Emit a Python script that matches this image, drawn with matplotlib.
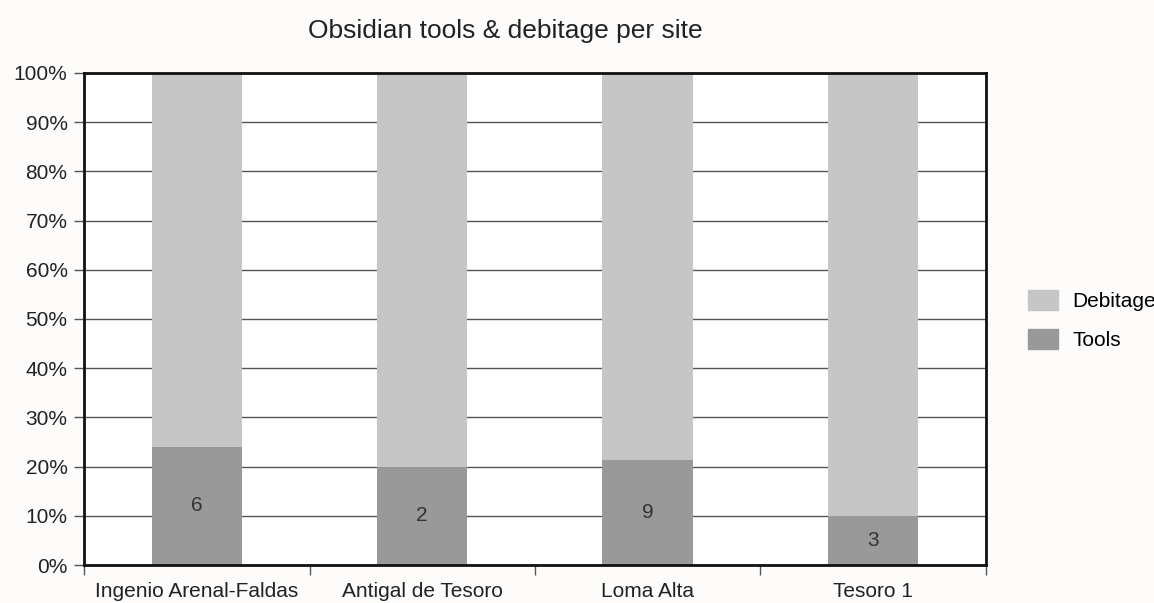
import matplotlib.pyplot as plt
from matplotlib.patches import Patch
import numpy as np

plt.rcParams['font.family'] = ['Liberation Sans', 'DejaVu Sans']

sites = ['Ingenio Arenal-Faldas', 'Antigal de Tesoro', 'Loma Alta', 'Tesoro 1']
tools = [6, 2, 9, 3]
debitage = [19, 8, 33, 27]

tools = np.array(tools, dtype=float)
debitage = np.array(debitage, dtype=float)
total = tools + debitage
tools_pct = tools / total * 100
deb_pct = debitage / total * 100

fig = plt.figure(figsize=(11.54, 6.03), dpi=100, facecolor='#fdfcfa')
ax = fig.add_axes([0.073, 0.063, 0.781, 0.816])
ax.set_facecolor('white')

x = np.arange(len(sites))
ax.bar(x, tools_pct, width=0.4, color='#999999', zorder=2)
ax.bar(x, deb_pct, bottom=tools_pct, width=0.4, color='#c6c6c6', zorder=2)

for xi, p, n in zip(x, tools_pct, tools):
    ax.text(xi, p / 2, f'{int(n)}', ha='center', va='center', fontsize=15, color='#333333', zorder=3)

ax.set_xlim(-0.5, len(sites) - 0.5)
ax.set_ylim(0, 100)
ax.set_yticks(np.arange(0, 101, 10))
ax.set_yticklabels([f'{v}%' for v in range(0, 101, 10)], fontsize=15, color='#222222')
ax.yaxis.grid(True, color='#555555', linewidth=1, zorder=1)
ax.tick_params(axis='y', length=7, width=1, color='#555555', pad=5)

# category labels sit between boundary ticks
ax.set_xticks(np.arange(-0.5, len(sites)), minor=False)
ax.set_xticklabels([])
ax.set_xticks(x, minor=True)
ax.set_xticklabels(sites, minor=True, fontsize=15, color='#222222')
ax.tick_params(axis='x', which='major', length=7, width=1, color='#555555')
ax.tick_params(axis='x', which='minor', length=0, pad=12)

for s in ax.spines.values():
    s.set_linewidth(2)
    s.set_color('#111111')

fig.text(0.438, 0.948, 'Obsidian tools & debitage per site', ha='center', va='center',
         fontsize=19, color='#222222')

handles = [Patch(color='#c6c6c6', label='Debitage'), Patch(color='#999999', label='Tools')]
fig.legend(handles=handles, loc='center left', bbox_to_anchor=(0.891, 0.469), frameon=False,
           fontsize=15, handlelength=1.44, handleheight=1.1, labelspacing=0.85, handletextpad=0.67,
           borderaxespad=0, borderpad=0)

fig.savefig('out.png', dpi=100, facecolor=fig.get_facecolor())
